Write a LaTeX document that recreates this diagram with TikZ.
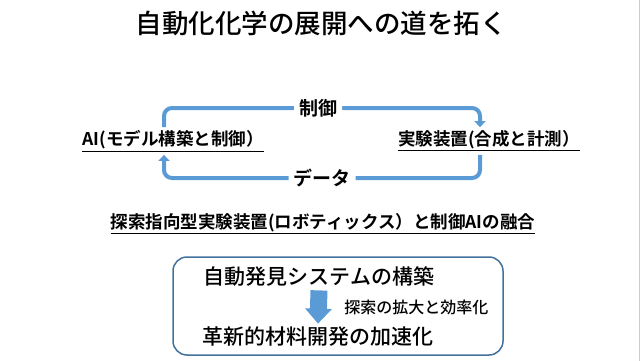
\documentclass[tikz,border=0pt]{standalone}
\usepackage{fontspec}
\setmainfont{Noto Sans CJK JP}[UprightFont={* Medium}, BoldFont={* Bold}]
\usetikzlibrary{arrows.meta}
\definecolor{flowblue}{RGB}{91,155,213}
\definecolor{boxblue}{RGB}{65,113,156}
\tikzset{
  flow/.style={line width=4pt, flowblue, rounded corners=8pt, -{Triangle[width=11pt,length=6pt]}},
  tag/.style={font=\fontsize{17.5}{20}\selectfont\bfseries},
  gaplabel/.style={fill=white, text=black, font=\fontsize{19}{22}\selectfont\bfseries, inner xsep=5pt},
  boxtext/.style={font=\fontsize{21}{24}\selectfont},
}
\begin{document}
\begin{tikzpicture}[x=1pt,y=-1pt]
  \useasboundingbox (0,0) rectangle (640,361);
  \draw[gray!40] (639.5,0) -- (639.5,361);
  \node (title) at (321,23) {\fontsize{26.5}{30}\selectfont 自動化化学の展開への道を拓く};
  \node[tag] (ai) at (173,141) {\underline{AI(モデル構築と制御）}};
  \node[tag] (lab) at (489,141) {\underline{実験装置(合成と計測）}};
  \draw[flow] ([xshift=-9pt]ai.north) |- (318,108) node[gaplabel] {制御} -| ([xshift=-9pt]lab.north);
  \draw[flow] ([xshift=-9pt]lab.south) |- (322,178) node[gaplabel] {データ} -| ([xshift=-9pt]ai.south);
  \node[tag] (fusion) at (323,224) {\underline{探索指向型実験装置(ロボティックス）と制御AIの融合}};
  \draw[boxblue, line width=1.5pt, rounded corners=14pt] (173,257) rectangle (503,355);
  \node[boxtext] (find) at (319,277) {自動発見システムの構築};
  \node[boxtext] (accel) at (318,337) {革新的材料開発の加速化};
  \draw[line width=17pt, flowblue, -{Triangle[width=26pt,length=15pt]}] (find.south) -- (accel.north)
    node[midway, right=14pt, text=black, font=\fontsize{16}{18}\selectfont] {探索の拡大と効率化};
\end{tikzpicture}
\end{document}
